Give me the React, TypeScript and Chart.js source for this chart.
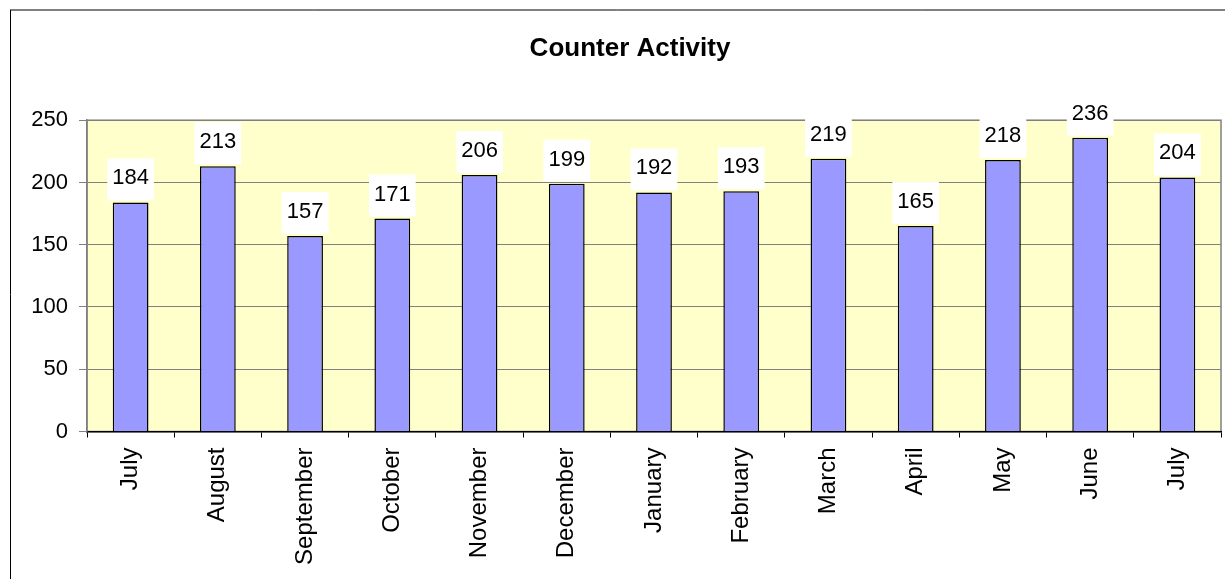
import React, { useEffect, useRef } from "react";
import { Chart, registerables } from "chart.js";

Chart.register(...registerables);

const FONT = "'Liberation Sans', Arial, sans-serif";

const categories = [
  "July", "August", "September", "October", "November", "December",
  "January", "February", "March", "April", "May", "June", "July",
];
const counterValues = [184, 213, 157, 171, 206, 199, 192, 193, 219, 165, 218, 236, 204];
const yTicks = [0, 50, 100, 150, 200, 250];
const chartTitle = "Counter Activity";

const backgroundPlugin = {
  id: "plotBackground",
  beforeDraw(chart: any) {
    const { ctx, chartArea } = chart;
    ctx.save();
    // outer chart border (left and top visible)
    ctx.strokeStyle = "#000";
    ctx.lineWidth = 1;
    ctx.beginPath();
    ctx.moveTo(10.5, 10);
    ctx.lineTo(10.5, chart.height);
    ctx.moveTo(10, 10);
    ctx.lineTo(chart.width, 10);
    ctx.stroke();
    // plot area
    ctx.fillStyle = "#FFFFCC";
    ctx.fillRect(chartArea.left, chartArea.top, chartArea.right - chartArea.left, chartArea.bottom - chartArea.top);
    ctx.strokeStyle = "#808080";
    ctx.lineWidth = 1.5;
    ctx.strokeRect(chartArea.left, chartArea.top, chartArea.right - chartArea.left, chartArea.bottom - chartArea.top);
    ctx.restore();
  },
};

const valueLabelPlugin = {
  id: "valueLabels",
  afterDatasetsDraw(chart: any) {
    const { ctx } = chart;
    const meta = chart.getDatasetMeta(0);
    const data = chart.data.datasets[0].data;
    ctx.save();
    ctx.font = `22px ${FONT}`;
    ctx.textAlign = "center";
    ctx.textBaseline = "alphabetic";
    meta.data.forEach((bar: any, i: number) => {
      const label = String(data[i]);
      const w = ctx.measureText(label).width;
      const x = bar.x;
      const y = bar.y;
      ctx.fillStyle = "#FFFFFF";
      ctx.fillRect(x - w / 2 - 5, y - 44, w + 10, 42);
      ctx.fillStyle = "#000000";
      ctx.fillText(label, x, y - 18);
    });
    ctx.restore();
  },
};

export default function App() {
  const canvasRef = useRef<HTMLCanvasElement | null>(null);

  useEffect(() => {
    if (!canvasRef.current) return;
    const chart = new Chart(canvasRef.current, {
      type: "bar",
      data: {
        labels: categories,
        datasets: [
          {
            label: "Counter Activity",
            data: counterValues,
            backgroundColor: "#9999FF",
            borderColor: "#000000",
            borderWidth: 1.5,
            barPercentage: 0.41,
            categoryPercentage: 1,
          },
        ],
      },
      options: {
        responsive: false,
        animation: false,
        layout: { padding: { left: 39, right: 4, top: 0, bottom: 0 } },
        plugins: {
          legend: { display: false },
          tooltip: { enabled: false },
          title: {
            display: true,
            text: chartTitle,
            color: "#000",
            font: { family: FONT, size: 26, weight: "bold", lineHeight: 1.2 },
            padding: { top: 33, bottom: 56 },
          },
        },
        scales: {
          x: {
            offset: true,
            grid: {
              offset: true,
              display: true,
              drawOnChartArea: false,
              drawTicks: true,
              tickLength: 6,
              color: "#000",
              lineWidth: 1,
            },
            border: { display: true, color: "#000", width: 1.5 },
            ticks: {
              color: "#000",
              font: { family: FONT, size: 24 },
              minRotation: 90,
              maxRotation: 90,
              autoSkip: false,
              padding: 10,
            },
            afterFit(scale: any) {
              scale.height = 147.5;
            },
          },
          y: {
            min: 0,
            max: 250,
            afterBuildTicks(scale: any) {
              scale.ticks = yTicks.map((v) => ({ value: v }));
            },
            grid: {
              color: "#808080",
              lineWidth: 1,
              drawTicks: true,
              tickLength: 8,
            },
            border: { display: true, color: "#808080", width: 1.5 },
            ticks: {
              color: "#000",
              font: { family: FONT, size: 22 },
              padding: 11,
            },
            afterFit(scale: any) {
              scale.width = 48;
              // let the tick labels extend left of the (narrow) axis box
              scale._computeLabelArea = () => undefined;
            },
          },
        },
      },
      plugins: [backgroundPlugin, valueLabelPlugin],
    });
    return () => chart.destroy();
  }, []);

  return (
    <div style={{ position: "absolute", left: 0, top: 0, width: 1225, height: 579, background: "#fff" }}>
      <canvas ref={canvasRef} width={1225} height={579} style={{ display: "block" }} />
    </div>
  );
}
